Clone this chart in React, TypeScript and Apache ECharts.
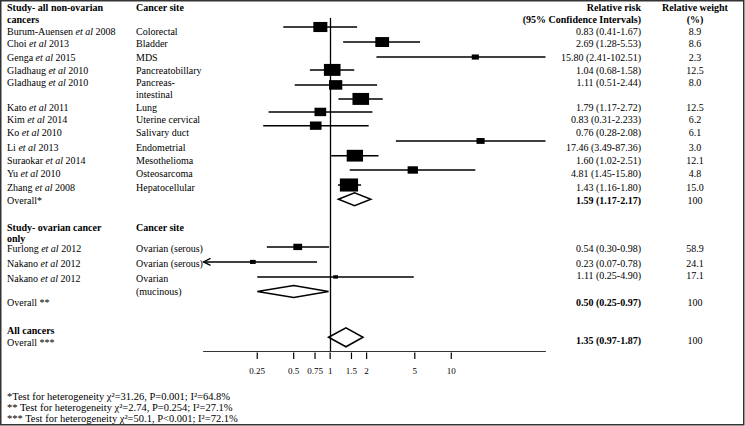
import React, { useEffect, useRef } from "react";
import * as echarts from "echarts";

// ---------- data ----------
const nonOvAuthors = ["Burum-Auensen", "Choi", "Genga", "Gladhaug", "Gladhaug", "Kato", "Kim", "Ko", "Li", "Suraokar", "Yu", "Zhang"];
const nonOvYears = ["2008", "2013", "2015", "2010", "2010", "2011", "2014", "2010", "2013", "2014", "2010", "2008"];
const nonOvSites = ["Colorectal", "Bladder", "MDS", "Pancreatobillary", "Pancreas-|intestinal", "Lung", "Uterine cervical", "Salivary duct", "Endometrial", "Mesothelioma", "Osteosarcoma", "Hepatocellular"];
const nonOvRR = [0.83, 2.69, 15.8, 1.04, 1.11, 1.79, 0.83, 0.76, 17.46, 1.6, 4.81, 1.43];
const nonOvLo = [0.41, 1.28, 2.41, 0.68, 0.51, 1.17, 0.31, 0.28, 3.49, 1.02, 1.45, 1.16];
const nonOvHi = [1.67, 5.53, 102.51, 1.58, 2.44, 2.72, 2.233, 2.08, 87.36, 2.51, 15.8, 1.8];
const nonOvWeight = [8.9, 8.6, 2.3, 12.5, 8.0, 12.5, 6.2, 6.1, 3.0, 12.1, 4.8, 15.0];

const ovAuthors = ["Furlong", "Nakano", "Nakano"];
const ovYears = ["2012", "2012", "2012"];
const ovSites = ["Ovarian (serous)", "Ovarian (serous)", "Ovarian|(mucinous)"];
const ovRR = [0.54, 0.23, 1.11];
const ovLo = [0.3, 0.07, 0.25];
const ovHi = [0.98, 0.78, 4.9];
const ovWeight = [58.9, 24.1, 17.1];

const pooledLabels = ["Overall*", "Overall **", "Overall ***"];
const pooledRR = [1.59, 0.5, 1.35];
const pooledLo = [1.17, 0.25, 0.97];
const pooledHi = [2.17, 0.97, 1.87];
const pooledWeight = ["100", "100", "100"];

const tickValues = [0.25, 0.5, 0.75, 1, 1.5, 2, 5, 10];

const footnotes = [
  "*Test for heterogeneity χ²=31.26, P=0.001; I²=64.8%",
  "** Test for heterogeneity χ²=2.74, P=0.254; I²=27.1%",
  "*** Test for heterogeneity χ²=50.1, P<0.001; I²=72.1%",
];

// ---------- layout / style ----------
const AXIS_MIN = 0.09;
const AXIS_MAX = 60;
const Y_MIN = -0.63;
const Y_MAX = 22.66;
const nonOvMarkRows = [0, 1.05, 2.1, 3, 4.05, 5.03, 5.94, 6.9, 7.97, 9, 10, 11.05];
const ovMarkRows = [15.38, 16.43, 17.48];
const pooledMarkRows = [12.05, 18.5, 21.7];
const diamondHeights = [13, 12, 19];
const SIZE_SCALE = [4.7, 1.15];

const nonOvTextY = [31, 43.5, 57, 70, 82, 107, 119.5, 132.5, 147, 160, 173, 187];
const ovTextY = [248, 263, 278];
const ovValueY = [248, 263, 275];
const pooledTextY = [200, 302, 342];
const pooledValueY = [200, 302, 340];
const footY = [396, 407, 418];

const FONT = "Liberation Serif";
const X_STUDY = 7;
const X_SITE = 136;
const X_RISK = 641;
const X_WEIGHT = 695;

const fmt = (v: number) => {
  const s = v.toFixed(2);
  return Number(s) === v ? s : String(v);
};
const ciText = (e: number, l: number, h: number) => `${fmt(e)} (${fmt(l)}-${fmt(h)})`;

function txt(text: string, x: number, y: number, opts: any = {}) {
  return {
    type: "text",
    x,
    y,
    silent: true,
    style: {
      text,
      fill: "#000",
      fontFamily: FONT,
      fontSize: opts.size || 10,
      fontWeight: opts.bold ? "bold" : "normal",
      align: opts.align || "left",
      verticalAlign: "middle",
      rich: {
        i: { fontStyle: "italic", fontFamily: FONT, fontSize: opts.size || 10, fill: "#000" },
      },
    },
  };
}

function siteTexts(site: string, y: number, lh: number) {
  return site.split("|").map((s, i) => txt(s, X_SITE, y + i * lh));
}

export default function App() {
  const ref = useRef<HTMLDivElement>(null);
  useEffect(() => {
    document.body.style.margin = "0";
    const chart = echarts.init(ref.current!, null, { renderer: "svg" });

    const graphics: any[] = [];
    graphics.push({
      type: "rect",
      silent: true,
      shape: { x: 0.75, y: 0.75, width: 743, height: 424 },
      style: { fill: "none", stroke: "#333", lineWidth: 1.5 },
    });
    // headers
    graphics.push(txt("Study- all non-ovarian", X_STUDY, 7, { bold: true }));
    graphics.push(txt("cancers", X_STUDY, 19, { bold: true }));
    graphics.push(txt("Cancer site", X_SITE, 7, { bold: true }));
    graphics.push(txt("Relative risk", X_RISK, 7, { bold: true, align: "right" }));
    graphics.push(txt("(95% Confidence Intervals)", X_RISK, 19, { bold: true, align: "right" }));
    graphics.push(txt("Relative weight", X_WEIGHT, 7, { bold: true, align: "center" }));
    graphics.push(txt("(%)", X_WEIGHT, 19, { bold: true, align: "center" }));

    nonOvAuthors.forEach((a, i) => {
      const y = nonOvTextY[i];
      graphics.push(txt(`${a} {i|et al} ${nonOvYears[i]}`, X_STUDY, y));
      graphics.push(...siteTexts(nonOvSites[i], y, 12));
      graphics.push(txt(ciText(nonOvRR[i], nonOvLo[i], nonOvHi[i]), X_RISK, y, { align: "right" }));
      graphics.push(txt(nonOvWeight[i].toFixed(1), X_WEIGHT, y, { align: "center" }));
    });

    graphics.push(txt("Study- ovarian cancer", X_STUDY, 227, { bold: true }));
    graphics.push(txt("only", X_STUDY, 238, { bold: true }));
    graphics.push(txt("Cancer site", X_SITE, 227, { bold: true }));
    ovAuthors.forEach((a, i) => {
      const y = ovTextY[i];
      graphics.push(txt(`${a} {i|et al} ${ovYears[i]}`, X_STUDY, y));
      graphics.push(...siteTexts(ovSites[i], y, 13));
      graphics.push(txt(ciText(ovRR[i], ovLo[i], ovHi[i]), X_RISK, ovValueY[i], { align: "right" }));
      graphics.push(txt(ovWeight[i].toFixed(1), X_WEIGHT, ovValueY[i], { align: "center" }));
    });

    graphics.push(txt("All cancers", X_STUDY, 330, { bold: true }));
    pooledLabels.forEach((l, i) => {
      graphics.push(txt(l, X_STUDY, pooledTextY[i]));
      graphics.push(txt(ciText(pooledRR[i], pooledLo[i], pooledHi[i]), X_RISK, pooledValueY[i], { align: "right", bold: true }));
      graphics.push(txt(pooledWeight[i], X_WEIGHT, pooledValueY[i], { align: "center" }));
    });

    footnotes.forEach((f, i) => graphics.push(txt(f, X_STUDY, footY[i], { size: 10.5 })));

    const studyData: any[] = [];
    nonOvRR.forEach((v, i) => studyData.push([v, nonOvLo[i], nonOvHi[i], nonOvWeight[i], nonOvMarkRows[i], 0]));
    ovRR.forEach((v, i) => studyData.push([v, ovLo[i], ovHi[i], ovWeight[i], ovMarkRows[i], 1]));
    const pooledData = pooledRR.map((v, i) => [v, pooledLo[i], pooledHi[i], pooledMarkRows[i], diamondHeights[i]]);

    chart.setOption({
      animation: false,
      grid: { left: 203.5, right: 199.5, top: 18, height: 333 },
      xAxis: {
        type: "log",
        min: AXIS_MIN,
        max: AXIS_MAX,
        axisLine: { show: true, onZero: false, lineStyle: { color: "#333", width: 1 } },
        axisTick: { show: false },
        axisLabel: { show: false },
        splitLine: { show: false },
      },
      yAxis: { type: "value", inverse: true, min: Y_MIN, max: Y_MAX, show: false },
      graphic: graphics,
      series: [
        {
          type: "custom",
          clip: false,
          data: studyData,
          encode: { x: [0, 1, 2], y: 4 },
          renderItem: (params: any, api: any) => {
            const est = api.value(0), lo = api.value(1), hi = api.value(2);
            const w = api.value(3), row = api.value(4), g = api.value(5);
            const [xEst, y] = api.coord([est, row]);
            const xLo = api.coord([Math.max(lo, AXIS_MIN), row])[0];
            const xHi = api.coord([Math.min(hi, AXIS_MAX), row])[0];
            const bw = SIZE_SCALE[g] * Math.sqrt(w);
            const bh = bw * 0.72;
            const children: any[] = [
              { type: "line", shape: { x1: xLo, y1: y, x2: xHi, y2: y }, style: { stroke: "#000", lineWidth: 1.5 } },
              { type: "rect", shape: { x: xEst - bw / 2, y: y - bh / 2, width: bw, height: bh }, style: { fill: "#000" } },
            ];
            if (lo < AXIS_MIN) {
              children.push({
                type: "polyline",
                shape: { points: [[xLo + 7, y - 3.5], [xLo, y], [xLo + 7, y + 3.5]] },
                style: { stroke: "#000", fill: "none", lineWidth: 1.3 },
              });
            }
            return { type: "group", children };
          },
          markLine: {
            silent: true,
            symbol: "none",
            label: { show: false },
            lineStyle: { color: "#000", width: 1.3, type: "solid" },
            data: [{ xAxis: 1 }],
          },
        },
        {
          type: "custom",
          clip: false,
          data: pooledData,
          encode: { x: [0, 1, 2], y: 3 },
          renderItem: (params: any, api: any) => {
            const est = api.value(0), lo = api.value(1), hi = api.value(2);
            const row = api.value(3), h = api.value(4);
            const [xEst, y] = api.coord([est, row]);
            const xLo = api.coord([lo, row])[0];
            const xHi = api.coord([hi, row])[0];
            return {
              type: "polygon",
              shape: { points: [[xLo, y], [xEst, y - h / 2], [xHi, y], [xEst, y + h / 2]] },
              style: { fill: "#fff", stroke: "#000", lineWidth: 1.5 },
            };
          },
        },
        {
          type: "custom",
          clip: false,
          data: tickValues.map((v) => [v, Y_MAX]),
          encode: { x: 0, y: 1 },
          renderItem: (params: any, api: any) => {
            const v = api.value(0);
            const [x, y] = api.coord([v, Y_MAX]);
            return {
              type: "group",
              children: [
                { type: "line", shape: { x1: x, y1: y + 1.5, x2: x, y2: y + 8 }, style: { stroke: "#000", lineWidth: 1.2 } },
                {
                  type: "text",
                  style: {
                    text: String(v),
                    x,
                    y: y + 20,
                    align: "center",
                    verticalAlign: "middle",
                    fontFamily: FONT,
                    fontSize: 9,
                    fill: "#000",
                  },
                },
              ],
            };
          },
        },
      ],
    });
    return () => chart.dispose();
  }, []);
  return <div ref={ref} style={{ width: 745, height: 426 }} />;
}
